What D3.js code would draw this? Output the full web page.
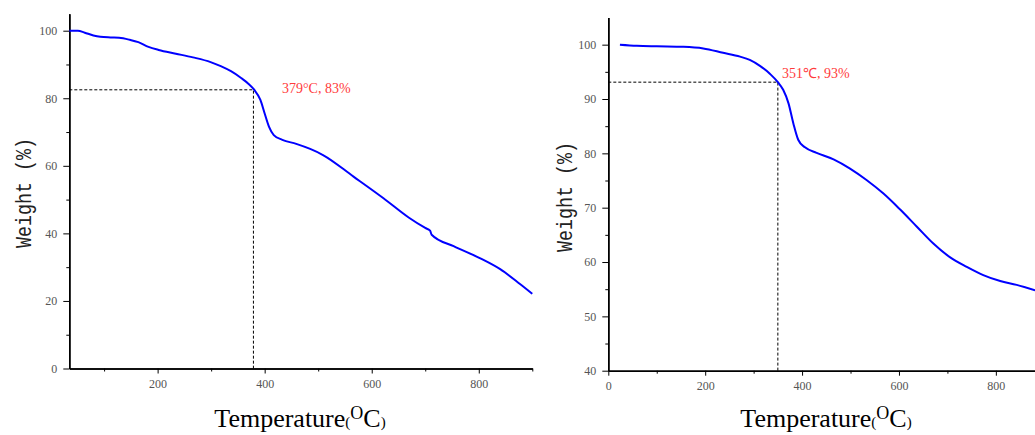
<!DOCTYPE html>
<meta charset="utf-8">
<style>
body { margin: 0; background: #fff; }
.tick text { font: 12px 'Liberation Serif', serif; fill: #555; }
.axis path, .axis line { stroke: #000; }
.axis path { stroke-width: 1.5px; }
.curve { fill: none; stroke: #0000ff; stroke-width: 2px; }
.guide { fill: none; stroke: #000; stroke-width: 1px; stroke-dasharray: 3,2; }
.ylab { font: 22px 'Liberation Mono', monospace; fill: #222; }
.xlab { font-family: 'Liberation Serif', serif; fill: #000; }
.note { font: 14px 'Liberation Serif', serif; fill: #ff3b3b; }
</style>
<body>
<script src="https://cdnjs.cloudflare.com/ajax/libs/d3/7.8.5/d3.min.js"></script>
<script>
// sample A (left panel): temperature (°C), weight (%)
var tempA = [35, 51, 64, 80, 93, 112, 128, 148, 164, 183, 202, 234, 266, 299, 318, 337, 356, 369, 380,
             392, 400, 408, 417, 433, 459, 485, 509, 566, 622, 669, 700, 709, 712, 753, 803, 840, 877, 900];
var weightA = [100, 100, 99.4, 98.6, 98.2, 98.0, 97.9, 97.3, 96.6, 95.2, 94.3, 93.2, 92.1, 90.7, 89.5, 88.0, 86.0, 84.4, 82.6,
               79.5, 75.5, 71.6, 69.1, 67.7, 66.5, 65.0, 63.2, 56.8, 50.4, 44.7, 41.6, 40.8, 39.6, 36.2, 32.6, 29.4, 25.0, 22.1];

// sample B (right panel)
var tempB = [24, 59, 100, 155, 196, 237, 272, 292, 313, 334, 350, 361, 372, 382, 392, 406, 430, 465,
             499, 533, 568, 602, 637, 671, 705, 740, 774, 809, 843, 881];
var weightB = [100, 99.8, 99.7, 99.6, 99.3, 98.5, 97.8, 97.2, 96.1, 94.6, 93.1, 91.7, 89.2, 85.5, 82.5, 81.1, 80.1, 78.9,
               77.2, 75.1, 72.6, 69.7, 66.5, 63.4, 60.9, 59.1, 57.6, 56.5, 55.8, 54.8];

var xTicksA = [200, 400, 600, 800];
var xTicksB = [0, 200, 400, 600, 800];
var yTicksA = [0, 20, 40, 60, 80, 100];
var yTicksB = [40, 50, 60, 70, 80, 90, 100];

var markA = {t: 379, w: 82.5, label: "379\u00B0C, 83%"};
var markB = {t: 350, w: 93.1, label: "351\u2103, 93%"};

var svg = d3.select("body").append("svg")
    .attr("width", 1035)
    .attr("height", 435);

function panel(o) {
  var x = d3.scaleLinear().domain(o.xDomain).range(o.xRange),
      y = d3.scaleLinear().domain(o.yDomain).range(o.yRange);
  var g = svg.append("g");

  // minor ticks
  var xMinor = d3.range(0, 1000, 100).filter(function(v) { return v >= o.xDomain[0] && v <= o.xDomain[1] && o.xTicks.indexOf(v) < 0; });
  var yMinor = d3.range(o.yDomain[0], o.yDomain[1], o.yStep / 2).filter(function(v) { return o.yTicks.indexOf(v) < 0; });

  g.append("g")
      .attr("class", "axis")
      .attr("transform", "translate(0," + o.yRange[0] + ")")
      .call(d3.axisBottom(x).tickValues(xMinor).tickSize(3).tickFormat("").tickSizeOuter(0));
  g.append("g")
      .attr("class", "axis")
      .attr("transform", "translate(0," + o.yRange[0] + ")")
      .call(d3.axisBottom(x).tickValues(o.xTicks).tickSize(5).tickPadding(6).tickSizeOuter(0));

  g.append("g")
      .attr("class", "axis")
      .attr("transform", "translate(" + o.xRange[0] + ",0)")
      .call(d3.axisLeft(y).tickValues(yMinor).tickSize(3).tickFormat("").tickSizeOuter(0));
  g.append("g")
      .attr("class", "axis")
      .attr("transform", "translate(" + o.xRange[0] + ",0)")
      .call(d3.axisLeft(y).tickValues(o.yTicks).tickSize(6).tickPadding(6).tickSizeOuter(0));

  // guide lines
  g.append("path")
      .attr("class", "guide")
      .attr("d", "M" + x(o.xDomain[0]) + "," + y(o.mark.w) + "H" + x(o.mark.t) + "V" + y(o.yDomain[0]));

  var line = d3.line()
      .curve(d3.curveMonotoneX)
      .x(function(d) { return x(d[0]); })
      .y(function(d) { return y(d[1]); });

  g.append("path")
      .attr("class", "curve")
      .attr("d", line(d3.zip(o.temp, o.weight)));

  g.append("text")
      .attr("class", "note")
      .attr("x", o.noteX)
      .attr("y", o.noteY)
      .text(o.mark.label);

  g.append("text")
      .attr("class", "ylab")
      .attr("transform", "translate(" + o.yLabX + "," + o.yLabY + ") rotate(-90)")
      .attr("text-anchor", "middle")
      .attr("textLength", 110)
      .attr("lengthAdjust", "spacingAndGlyphs")
      .text("Weight (%)");

  var t = g.append("text")
      .attr("class", "xlab")
      .attr("x", o.xLabX)
      .attr("y", 427)
      .attr("text-anchor", "middle");
  t.append("tspan").style("font-size", "26px").text("Temperature");
  t.append("tspan").style("font-size", "15px").text("(");
  t.append("tspan").style("font-size", "18px").attr("dy", -8).text("O");
  t.append("tspan").style("font-size", "26px").attr("dy", 8).text("C");
  t.append("tspan").style("font-size", "15px").text(")");
}

panel({
  temp: tempA, weight: weightA, xTicks: xTicksA, yTicks: yTicksA, yStep: 20,
  xDomain: [35, 900], xRange: [69.3, 532.3],
  yDomain: [0, 105], yRange: [368.5, 13.8],
  mark: markA, noteX: 282, noteY: 93,
  yLabX: 31, yLabY: 193, xLabX: 300
});

panel({
  temp: tempB, weight: weightB, xTicks: xTicksB, yTicks: yTicksB, yStep: 10,
  xDomain: [0, 900], xRange: [608.3, 1044.3],
  yDomain: [40, 105], yRange: [370.7, 17.5],
  mark: markB, noteX: 782, noteY: 78,
  yLabX: 572, yLabY: 197, xLabX: 826
});
</script>
